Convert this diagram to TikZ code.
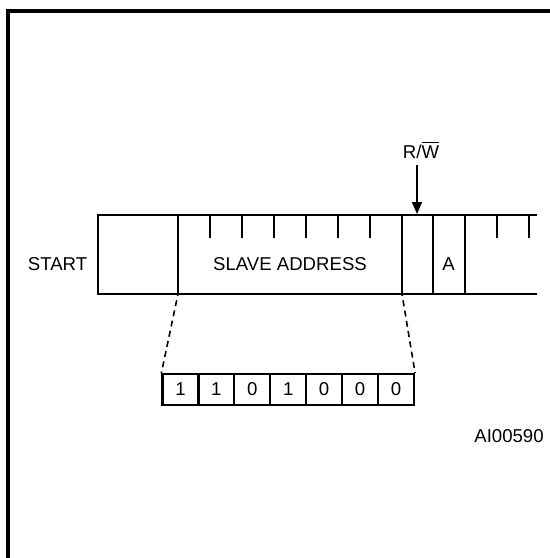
\documentclass[tikz,border=0pt]{standalone}
\usepackage{fontspec}
\setmainfont{Liberation Sans}
\usetikzlibrary{arrows.meta}
\tikzset{
  bitbox/.style={draw,line width=1.1pt,minimum width=17.95pt,minimum height=15.5pt,inner sep=0pt},
  barline/.style={line width=1.1pt},
  tick/.style={line width=1.3pt},
  zoomline/.style={line width=0.8pt,dash pattern=on 3pt off 2.2pt,dash phase=2pt}
}
\begin{document}
\begin{tikzpicture}[x=0.5pt,y=-0.5pt,font=\fontsize{9.3}{11}\selectfont]
\useasboundingbox (0,0) rectangle (550,558);
\draw[line width=1.7pt] (8,558) -- (8,11) -- (550,11);
\draw[barline] (537,215) -- (98,215) -- (98,294) -- (537,294);
\draw[barline] (178,215) -- (178,294) coordinate (adrleft);
\draw[barline] (402,215) -- (402,294) coordinate (adrright);
\draw[barline] (433,215) -- (433,294);
\draw[barline] (465,215) -- (465,294);
\foreach \x in {210,242,274,306,338,370,497,529}
  \draw[tick] (\x,215) -- (\x,238);
\node (start) at (57.5,264) {START};
\node (slave) at (290,264) {SLAVE ADDRESS};
\node (ack) at (448.5,264) {A};
\node[anchor=base] (rw) at (421,158) {R/$\overline{\mbox{W}}$};
\coordinate (rwtip) at (417,214);
\draw[line width=0.8pt,-{Triangle[length=6pt,width=5pt]}] (rw.south -| rwtip) -- (rwtip);
\foreach \b [count=\i from 0] in {1,1,0,1,0,0,0}
  \node[bitbox] (bit\i) at (180.45+35.93*\i,389.5) {\b};
\draw[zoomline] (adrleft) -- (bit0.north west);
\draw[zoomline] (adrright) -- (bit6.north east);
\node (code) at (509,436) {AI00590};
\end{tikzpicture}
\end{document}
